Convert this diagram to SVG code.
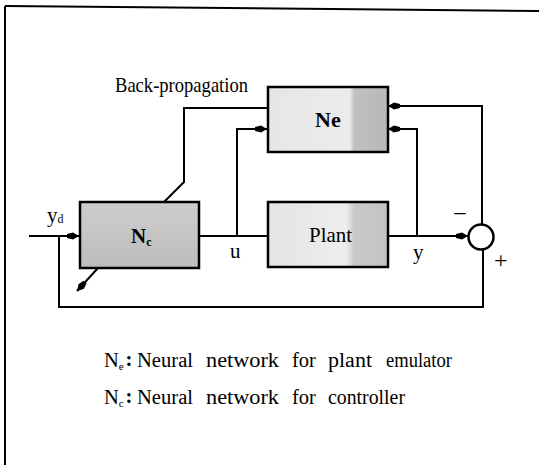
<svg xmlns="http://www.w3.org/2000/svg" width="539" height="465" viewBox="0 0 539 465">
<defs>
<style>
.t{font-family:"Liberation Serif","Times New Roman",serif;fill:#000}
.lg{font-size:20.5px}
.ln{fill:none;stroke:#000;stroke-width:2}
.bx{stroke:#000;stroke-width:2.5}
</style>
<marker id="ah" viewBox="0 0 12 8" refX="12" refY="4" markerWidth="12" markerHeight="8" markerUnits="userSpaceOnUse" orient="auto">
<path d="M0,2 L6,0.5 L12,4 L6,7.5 L0,6 Z" fill="#000"/>
</marker>
<linearGradient id="gNe" x1="0" y1="0" x2="1" y2="0">
<stop offset="0" stop-color="#e6e6e6"/>
<stop offset="0.68" stop-color="#ececec"/>
<stop offset="0.72" stop-color="#c0c0c0"/>
<stop offset="1" stop-color="#b8b8b8"/>
</linearGradient>
<linearGradient id="gPl" x1="0" y1="0" x2="1" y2="0">
<stop offset="0" stop-color="#e4e4e4"/>
<stop offset="0.65" stop-color="#eeeeee"/>
<stop offset="0.72" stop-color="#c8c8c8"/>
<stop offset="1" stop-color="#c4c4c4"/>
</linearGradient>
<linearGradient id="gNc" x1="0" y1="0" x2="0" y2="1">
<stop offset="0" stop-color="#cdcdcd"/>
<stop offset="1" stop-color="#bcbcbc"/>
</linearGradient>
</defs>
<rect width="539" height="465" fill="#fff"/>
<g id="frame">
<line x1="5" y1="6" x2="539" y2="11" stroke="#000" stroke-width="2"/>
<line x1="5" y1="6" x2="5" y2="465" stroke="#000" stroke-width="2"/>
</g>
<g id="connectors">
<path class="ln" d="M29,236 H79" marker-end="url(#ah)"/>
<path class="ln" d="M483,249 V307 H59 V236"/>
<path class="ln" d="M199,236 H267"/>
<path class="ln" d="M237,236 V129 H267" marker-end="url(#ah)"/>
<path class="ln" d="M388,236 H468" marker-end="url(#ah)"/>
<path class="ln" d="M417,236 V129 H388" marker-end="url(#ah)"/>
<path class="ln" d="M482,224 V106 H388" marker-end="url(#ah)"/>
<path class="ln" d="M267,108 H184 V182 L163,203"/>
<path class="ln" d="M98,268 L77,291" marker-end="url(#ah)"/>
</g>
<g id="Ne">
<rect class="bx" x="268" y="87" width="120" height="65" fill="url(#gNe)"/>
<text class="t" x="315" y="127" font-size="22" font-weight="bold">Ne</text>
</g>
<g id="Nc">
<rect class="bx" x="80" y="202" width="119" height="66" fill="url(#gNc)"/>
<text class="t" x="131" y="243" font-size="21" font-weight="bold">N<tspan font-size="12" dy="3">c</tspan></text>
</g>
<g id="Plant">
<rect class="bx" x="268" y="202" width="120" height="65" fill="url(#gPl)"/>
<text class="t" x="309" y="242" font-size="21" textLength="43" lengthAdjust="spacingAndGlyphs">Plant</text>
</g>
<g id="sum">
<circle cx="481" cy="237" r="12.5" fill="#fff" stroke="#000" stroke-width="2.5"/>
</g>
<g id="labels">
<text class="t" x="115" y="92" font-size="22" textLength="133" lengthAdjust="spacingAndGlyphs">Back-propagation</text>
<text class="t" x="47" y="222" font-size="21">y<tspan font-size="12" dy="1">d</tspan></text>
<text class="t" x="230" y="258" font-size="21">u</text>
<text class="t" x="413" y="259" font-size="21">y</text>
<text class="t" x="453" y="221" font-size="22" textLength="14" lengthAdjust="spacingAndGlyphs">−</text>
<text class="t" x="494" y="268" font-size="24">+</text>
</g>
<g id="legend">
<text class="t lg" x="104" y="367">N<tspan font-size="11" dy="3">e</tspan></text>
<text class="t lg" x="125.5" y="366" font-weight="bold">:</text>
<text class="t lg" x="137" y="367" textLength="56" lengthAdjust="spacingAndGlyphs">Neural</text>
<text class="t lg" x="206" y="367" textLength="73" lengthAdjust="spacingAndGlyphs">network</text>
<text class="t lg" x="292" y="367">for</text>
<text class="t lg" x="328" y="367" textLength="44" lengthAdjust="spacingAndGlyphs">plant</text>
<text class="t lg" x="386" y="367" textLength="66" lengthAdjust="spacingAndGlyphs">emulator</text>
<text class="t lg" x="104" y="404">N<tspan font-size="11" dy="3">c</tspan></text>
<text class="t lg" x="125.5" y="403" font-weight="bold">:</text>
<text class="t lg" x="137" y="404" textLength="56" lengthAdjust="spacingAndGlyphs">Neural</text>
<text class="t lg" x="206" y="404" textLength="73" lengthAdjust="spacingAndGlyphs">network</text>
<text class="t lg" x="292" y="404">for</text>
<text class="t lg" x="328" y="404" textLength="77" lengthAdjust="spacingAndGlyphs">controller</text>
</g>
</svg>
